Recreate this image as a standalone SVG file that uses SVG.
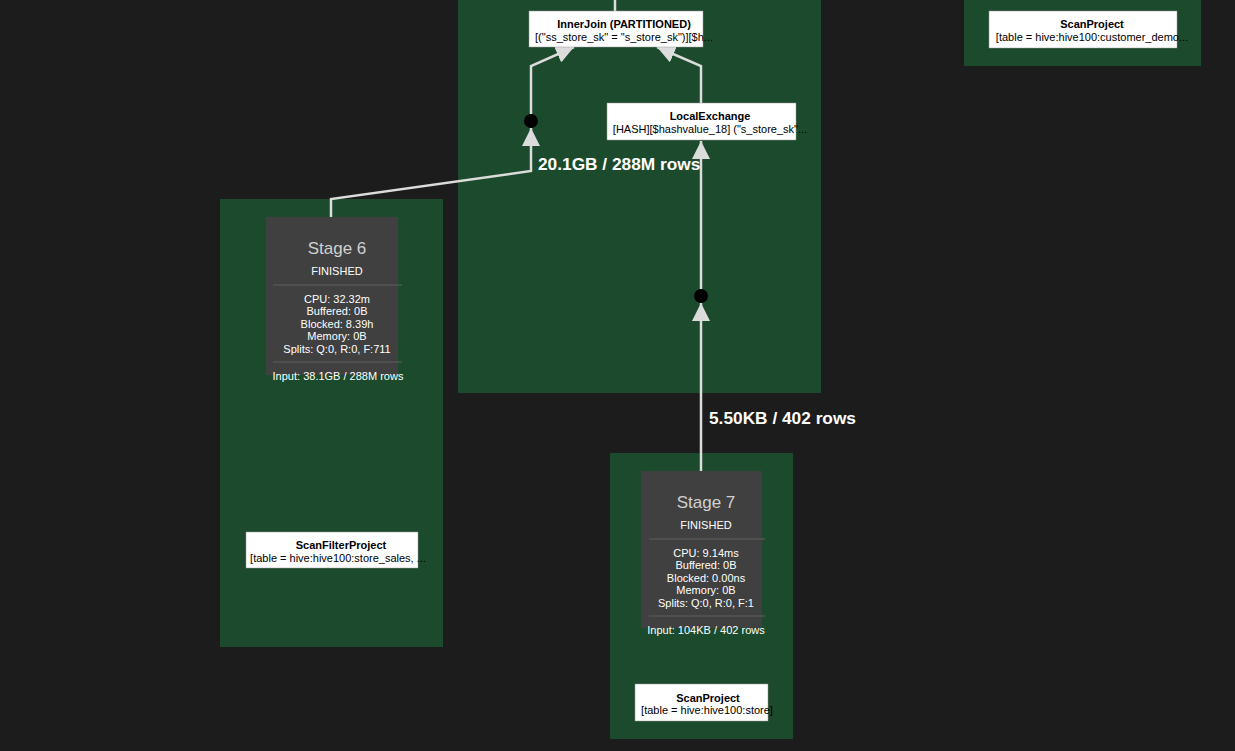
<svg xmlns="http://www.w3.org/2000/svg" width="1235" height="751" viewBox="0 0 1235 751">
<style>
.cluster{fill:#1c4a2d;}
.node rect{fill:#ffffff;stroke:#999;stroke-width:0.5;}
.t{font-family:"Liberation Sans",Arial,sans-serif;font-size:11px;fill:#000;text-anchor:middle;}
.tb{font-weight:bold;}
.stage rect.box{fill:#404040;}
.st{font-family:"Liberation Sans",Arial,sans-serif;fill:#ffffff;text-anchor:middle;font-size:11px;}
.title{font-size:17px;fill:#d0d0d0;}
.sep{stroke:#555;stroke-width:1.5;}
.edge{fill:none;stroke:#dcdcdc;stroke-width:2.5;}
.elabel{font-family:"Liberation Sans",Arial,sans-serif;font-size:17.3px;font-weight:bold;fill:#ffffff;}
.dot{fill:#000;}
</style>
<defs>
<marker id="arr" markerUnits="userSpaceOnUse" markerWidth="18" markerHeight="18" viewBox="0 0 10 10" refX="10" refY="5" orient="auto">
<path d="M0,0 L10,5 L0,10 z" fill="#dcdcdc"/>
</marker>
</defs>
<rect width="1235" height="751" fill="#1c1c1c"/>
<g id="clusters">
<rect class="cluster" x="458" y="-2" width="363" height="395"/>
<rect class="cluster" x="964" y="-2" width="237" height="68"/>
<rect class="cluster" x="220" y="199" width="223" height="448"/>
<rect class="cluster" x="610" y="453" width="183" height="286"/>
</g>
<g id="connectors">
<path class="edge" d="M615,0 L615,11"/>
<path class="edge" d="M331,217 L331,199 L531,171 L531,128" marker-end="url(#arr)"/>
<path class="edge" d="M531,114 L531,66 L574,47" marker-end="url(#arr)"/>
<path class="edge" d="M701,103 L701,66 L657,47" marker-end="url(#arr)"/>
<path class="edge" d="M701,289 L701,141" marker-end="url(#arr)"/>
<path class="edge" d="M701,471 L701,303" marker-end="url(#arr)"/>
<circle class="dot" cx="531" cy="121" r="7"/>
<circle class="dot" cx="701" cy="296" r="7"/>
<text class="elabel" x="538" y="170">20.1GB / 288M rows</text>
<text class="elabel" x="709" y="424">5.50KB / 402 rows</text>
</g>
<g id="innerjoin" class="node">
<rect x="529" y="11" width="174" height="36"/>
<text class="t tb" x="624" y="28">InnerJoin (PARTITIONED)</text>
<text class="t" x="624" y="41">[("ss_store_sk" = "s_store_sk")][$h...</text>
</g>
<g id="localexchange" class="node">
<rect x="607" y="103" width="189" height="37"/>
<text class="t tb" x="710" y="120">LocalExchange</text>
<text class="t" x="710" y="133">[HASH][$hashvalue_18] ("s_store_sk"...</text>
</g>
<g id="scanproject-customer" class="node">
<rect x="989" y="11" width="188" height="37"/>
<text class="t tb" x="1092" y="28">ScanProject</text>
<text class="t" x="1092" y="41">[table = hive:hive100:customer_demo...</text>
</g>
<g id="stage6" class="stage">
<rect class="box" x="266" y="217" width="132" height="158"/>
<text class="st title" x="337" y="254">Stage 6</text>
<text class="st" x="337" y="275">FINISHED</text>
<line class="sep" x1="273" y1="285" x2="402" y2="285"/>
<text class="st" x="337" y="303">CPU: 32.32m</text>
<text class="st" x="337" y="315">Buffered: 0B</text>
<text class="st" x="337" y="328">Blocked: 8.39h</text>
<text class="st" x="337" y="340">Memory: 0B</text>
<text class="st" x="337" y="353">Splits: Q:0, R:0, F:711</text>
<line class="sep" x1="273" y1="362" x2="402" y2="362"/>
<text class="st" x="338" y="380">Input: 38.1GB / 288M rows</text>
</g>
<g id="scanfilterproject" class="node">
<rect x="246" y="532" width="172" height="36"/>
<text class="t tb" x="341" y="549">ScanFilterProject</text>
<text class="t" x="338" y="562">[table = hive:hive100:store_sales, ...</text>
</g>
<g id="stage7" class="stage">
<rect class="box" x="641" y="471" width="121" height="157"/>
<text class="st title" x="706" y="508">Stage 7</text>
<text class="st" x="706" y="529">FINISHED</text>
<line class="sep" x1="649" y1="539" x2="765" y2="539"/>
<text class="st" x="706" y="557">CPU: 9.14ms</text>
<text class="st" x="706" y="569">Buffered: 0B</text>
<text class="st" x="706" y="582">Blocked: 0.00ns</text>
<text class="st" x="706" y="594">Memory: 0B</text>
<text class="st" x="706" y="607">Splits: Q:0, R:0, F:1</text>
<line class="sep" x1="649" y1="616" x2="765" y2="616"/>
<text class="st" x="706" y="634">Input: 104KB / 402 rows</text>
</g>
<g id="scanproject-store" class="node">
<rect x="635" y="684" width="133" height="37"/>
<text class="t tb" x="708" y="702">ScanProject</text>
<text class="t" x="707" y="714">[table = hive:hive100:store]</text>
</g>
</svg>
